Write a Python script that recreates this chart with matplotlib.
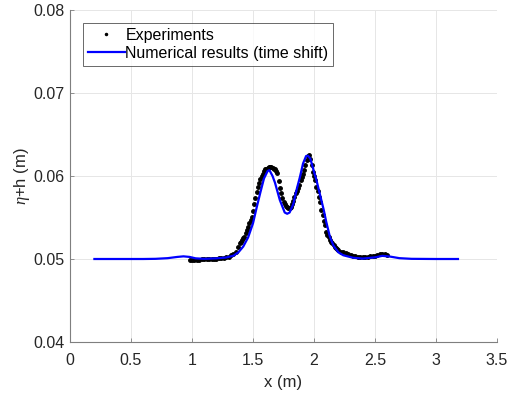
import matplotlib
matplotlib.use("Agg")
import matplotlib.pyplot as plt

plt.rcParams['font.family'] = ['Liberation Sans', 'DejaVu Sans']
plt.rcParams['mathtext.fontset'] = 'custom'
plt.rcParams['mathtext.it'] = 'Liberation Serif:italic'

# Numerical results (time shift)
num_x = [0.20, 0.40, 0.60, 0.70, 0.80, 0.88, 0.93, 0.98, 1.03, 1.10, 1.20, 1.28, 1.34,
         1.38, 1.42, 1.46, 1.50, 1.53, 1.56, 1.59, 1.62, 1.635, 1.66, 1.68, 1.72, 1.76,
         1.78, 1.80, 1.83, 1.86, 1.885, 1.91, 1.935, 1.95, 1.97, 2.00, 2.02, 2.05, 2.08,
         2.10, 2.13, 2.16, 2.20, 2.24, 2.32, 2.40, 2.50, 2.56, 2.62, 2.70, 2.80, 3.00, 3.18]
num_y = [0.05000, 0.05000, 0.05000, 0.05002, 0.05010, 0.05025, 0.05032, 0.05025, 0.05008,
         0.05002, 0.05008, 0.05018, 0.05040, 0.05080, 0.05150, 0.05260, 0.05430, 0.05620,
         0.05800, 0.05970, 0.06060, 0.06070, 0.06000, 0.05920, 0.05710, 0.05560, 0.05545,
         0.05560, 0.05660, 0.05850, 0.05990, 0.06150, 0.06240, 0.06245, 0.06210, 0.06050,
         0.05950, 0.05770, 0.05590, 0.05450, 0.05270, 0.05160, 0.05080, 0.05045, 0.05015,
         0.05005, 0.05020, 0.05038, 0.05030, 0.05010, 0.05002, 0.05000, 0.05000]

# Experiments
exp_x = [0.98, 1.00, 1.02, 1.04, 1.06, 1.08, 1.10, 1.12, 1.14, 1.16, 1.18, 1.20, 1.22,
         1.24, 1.26, 1.28, 1.30, 1.32, 1.34, 1.36,
         1.38, 1.39, 1.40, 1.41, 1.42, 1.43, 1.44, 1.45, 1.46, 1.47, 1.48, 1.49,
         1.50, 1.51, 1.52, 1.53, 1.54, 1.55, 1.56, 1.57, 1.58, 1.59,
         1.60, 1.61, 1.62, 1.63, 1.64, 1.65, 1.66, 1.67, 1.68, 1.69,
         1.70, 1.71, 1.72, 1.73, 1.74, 1.75, 1.76, 1.77, 1.78, 1.79,
         1.80, 1.81, 1.82, 1.83, 1.84, 1.85, 1.86, 1.87, 1.88, 1.89,
         1.90, 1.91, 1.92, 1.93, 1.94, 1.95, 1.96, 1.97, 1.98, 1.99,
         2.00, 2.01, 2.02, 2.03, 2.04, 2.05, 2.06, 2.07, 2.08, 2.09,
         2.10, 2.11, 2.12, 2.13, 2.14, 2.15, 2.16, 2.17, 2.18, 2.19,
         2.20, 2.22, 2.24, 2.26, 2.28, 2.30, 2.32, 2.34, 2.36, 2.38, 2.40, 2.42, 2.44,
         2.46, 2.48, 2.50, 2.52, 2.54, 2.56, 2.58, 2.60]
exp_y = [0.04990, 0.04988, 0.04990, 0.04990, 0.04992, 0.04995, 0.04995, 0.04997, 0.05000,
         0.05000, 0.05003, 0.05005, 0.05008, 0.05010, 0.05015, 0.05020, 0.05030, 0.05045,
         0.05065, 0.05090,
         0.0515, 0.0519, 0.0521, 0.0523, 0.0525, 0.0527, 0.0531, 0.0535, 0.0539, 0.0543,
         0.0547, 0.0551,
         0.0558, 0.0566, 0.0574, 0.0581, 0.0587, 0.0592, 0.0596, 0.0600, 0.0603, 0.0606,
         0.0608, 0.0609, 0.0610, 0.0611, 0.0611, 0.0611, 0.0610, 0.0609, 0.0608, 0.0606,
         0.0604, 0.0594, 0.0586, 0.0580, 0.0573, 0.0569, 0.0566, 0.0564, 0.0563, 0.0562,
         0.0561, 0.0563, 0.0566, 0.0570, 0.0575, 0.0579, 0.0582, 0.0585, 0.0589, 0.0595,
         0.0599, 0.0603, 0.0607, 0.0613, 0.0619, 0.0624, 0.0625, 0.0621, 0.0613, 0.0605,
         0.0600, 0.0595, 0.0587, 0.0582, 0.0575, 0.0569, 0.0559, 0.0553, 0.0546, 0.0541,
         0.0533, 0.0529, 0.0526, 0.0523, 0.0521, 0.0519, 0.0517, 0.0515, 0.0513, 0.0512,
         0.0511, 0.05090, 0.05080, 0.05070, 0.05060, 0.05045, 0.05040, 0.05035, 0.05030,
         0.05030, 0.05030, 0.05030, 0.05030, 0.05035, 0.05035, 0.05040, 0.05045, 0.05055,
         0.05060, 0.05055, 0.05050]

x_ticks = [0, 0.5, 1, 1.5, 2, 2.5, 3, 3.5]
x_tick_labels = ['0', '0.5', '1', '1.5', '2', '2.5', '3', '3.5']
y_ticks = [0.04, 0.05, 0.06, 0.07, 0.08]
y_tick_labels = ['0.04', '0.05', '0.06', '0.07', '0.08']

fig = plt.figure(figsize=(5.11, 4.0), dpi=100)
ax = fig.add_axes([70/511, 58/400, 427/511, 332/400])

ax.plot(exp_x, exp_y, '.', color='black', markersize=5, label='Experiments', zorder=3)
ax.plot(num_x, num_y, '-', color=(0, 0, 1), linewidth=1.6, label='Numerical results (time shift)', zorder=4)

ax.set_xlim(0, 3.5)
ax.set_ylim(0.04, 0.08)
ax.set_xticks(x_ticks)
ax.set_xticklabels(x_tick_labels)
ax.set_yticks(y_ticks)
ax.set_yticklabels(y_tick_labels)

ax.grid(True, color='#e6e6e6', linewidth=0.7)
ax.set_axisbelow(True)
for s in ['top', 'right']:
    ax.spines[s].set_visible(False)
for s in ['left', 'bottom']:
    ax.spines[s].set_color('#7f7f7f')
    ax.spines[s].set_linewidth(0.8)
ax.tick_params(direction='in', length=3, width=0.6, color='#7f7f7f',
               labelsize=11.5, labelcolor='#262626')
ax.tick_params(axis='x', pad=8)
ax.tick_params(axis='y', pad=4)

ax.set_xlabel('x (m)', fontsize=12, color='#262626', labelpad=5)
ax.set_ylabel(r'$\eta$+h (m)', fontsize=12, color='#262626', labelpad=1)

leg = ax.legend(loc='upper left', bbox_to_anchor=(13/427, 1 - 13/332), fontsize=11.5,
                frameon=True, fancybox=False, handlelength=2.3, handletextpad=0.05,
                borderpad=0.3, labelspacing=0.2, borderaxespad=0, markerscale=0.6)
leg.get_frame().set_edgecolor('#262626')
leg.get_frame().set_linewidth(0.6)

fig.savefig('out.png', dpi=100)
